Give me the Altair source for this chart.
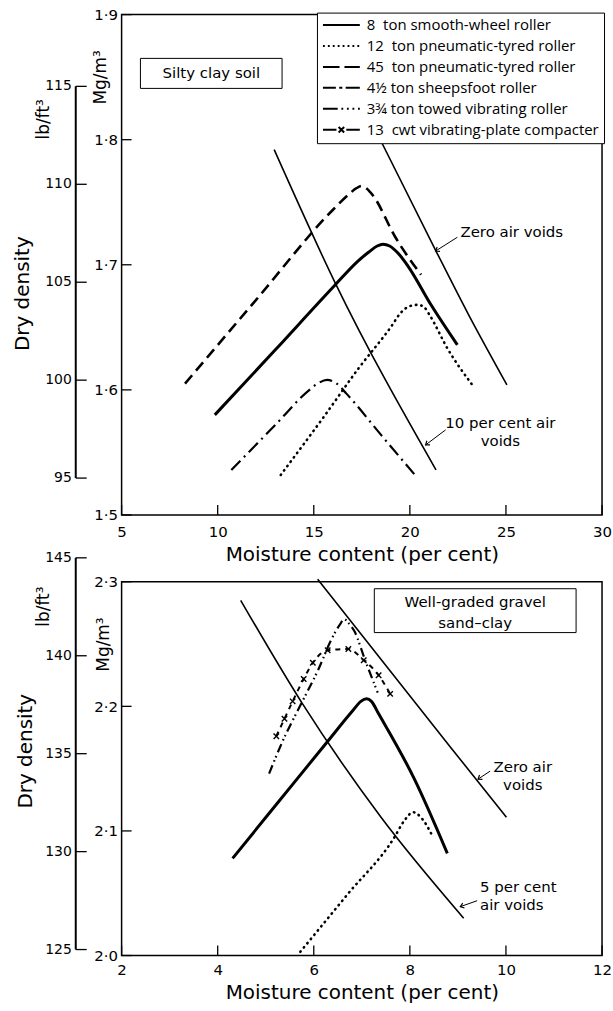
import altair as alt
import pandas as pd

FONT = "DejaVu Sans"
LEG_FONT = "Open Sans"

# ---------------- series names (legend) ----------------
SERIES = [
    "\u00a08\u00a0\u00a0ton smooth-wheel roller",
    "12\u00a0\u00a0ton pneumatic-tyred roller",
    "45\u00a0\u00a0ton pneumatic-tyred roller",
    "4½\u00a0ton sheepsfoot roller",
    "3¾\u00a0ton towed vibrating roller",
    "13\u00a0\u00a0cwt vibrating-plate compacter",
]
# legend symbols (solid, dotted, dashed, dash-dot, dash-dot-dot, dash-x-dash)
LEGEND_PATHS = [
    "M-3,0H3",
    "M-3,0h0.3M-2.2,0h0.3M-1.4,0h0.3M-0.6,0h0.3M0.2,0h0.3M1,0h0.3M1.8,0h0.3M2.6,0h0.3",
    "M-3,0H-0.3M0.5,0H3",
    "M-3,0H-0.9M-0.35,0H0.15M0.7,0H3",
    "M-3,0H-0.6M0,0h0.3M0.9,0h0.3M1.8,0h0.3M2.7,0h0.3",
    "M-3,0H-0.8M-0.45,-0.45L0.45,0.45M-0.45,0.45L0.45,-0.45M0.8,0H3",
]

# ---------------- top panel: silty clay soil ----------------
TOP_8T_M = [9.85, 13.0, 16.0, 17.3, 17.85, 18.3, 18.6, 18.95, 19.4, 19.9, 21.1, 22.47]
TOP_8T_MG = [1.580, 1.632, 1.682, 1.703, 1.710, 1.715, 1.7165, 1.715, 1.709, 1.699, 1.668, 1.636]
TOP_12T_M = [13.28, 15.5, 17.32, 19.0, 19.55, 20.0, 20.41, 20.75, 21.02, 21.96, 23.25]
TOP_12T_MG = [1.532, 1.578, 1.617, 1.650, 1.662, 1.667, 1.668, 1.666, 1.660, 1.633, 1.604]
TOP_45T_M = [8.30, 12.0, 16.0, 16.8, 17.2, 17.5, 17.75, 18.1, 19.21, 20.58]
TOP_45T_MG = [1.605, 1.672, 1.744, 1.756, 1.761, 1.763, 1.761, 1.755, 1.723, 1.692]
TOP_SF_M = [10.71, 13.0, 14.7, 15.2, 15.69, 16.2, 16.7, 18.5, 20.32]
TOP_SF_MG = [1.536, 1.572, 1.599, 1.605, 1.608, 1.605, 1.597, 1.564, 1.531]
TOP_ZAV_M = [18.2, 21.36, 22.99, 25.05]
TOP_ZAV_MG = [1.808, 1.711, 1.662, 1.604]
TOP_10AV_M = [12.94, 16.1, 21.36]
TOP_10AV_MG = [1.792, 1.686, 1.536]

TOP_X_TICKS = [5, 10, 15, 20, 25, 30]
TOP_MG_TICKS = [1.5, 1.6, 1.7, 1.8, 1.9]
TOP_LB_TICKS = [95, 100, 105, 110, 115]

TOP_BOX = {"m": [5.98], "m2": [13.35], "mg": [1.841], "mg2": [1.865]}
TOP_BOX_TEXT = {"m": [9.67], "mg": [1.853], "t": ["Silty clay soil"]}
TOP_NOTE_ZAV = {"m": [22.63], "mg": [1.726], "t": ["Zero air voids"]}
TOP_NOTE_10 = {"m": [24.71], "mg": [1.5733], "t": ["10 per cent air\nvoids"]}
TOP_ARROWS = {"m": [22.47, 21.86], "mg": [1.722, 1.568],
              "m2": [21.34, 20.82], "mg2": [1.711, 1.556], "ang": [147.5, 143.0]}

# ---------------- bottom panel: well-graded gravel sand-clay ----------------
BOT_8T_M = [4.31, 5.3, 6.27, 6.8, 6.98, 7.1, 7.2, 7.35, 8.09, 8.78]
BOT_8T_MG = [2.078, 2.125, 2.171, 2.196, 2.204, 2.206, 2.204, 2.194, 2.142, 2.082]
BOT_12T_M = [5.72, 6.7, 7.68, 7.88, 8.07, 8.25, 8.47]
BOT_12T_MG = [2.003, 2.049, 2.095, 2.108, 2.115, 2.110, 2.096]
BOT_TV_M = [5.07, 5.34, 5.75, 6.10, 6.37, 6.55, 6.63, 6.72, 6.85, 7.06, 7.33]
BOT_TV_MG = [2.146, 2.171, 2.203, 2.230, 2.254, 2.266, 2.270, 2.267, 2.260, 2.238, 2.211]
BOT_VP_M = [5.22, 5.39, 5.56, 5.79, 5.98, 6.29, 6.72, 7.04, 7.35, 7.59]
BOT_VP_MG = [2.176, 2.190, 2.204, 2.222, 2.235, 2.245, 2.246, 2.237, 2.225, 2.210]
BOT_ZAV_M = [6.08, 8.85, 10.01]
BOT_ZAV_MG = [2.302, 2.167, 2.111]
BOT_5AV_M = [4.48, 5.75, 7.40, 9.12]
BOT_5AV_MG = [2.285, 2.203, 2.111, 2.030]

BOT_X_TICKS = [2, 4, 6, 8, 10, 12]
BOT_MG_TICKS = [2.0, 2.1, 2.2, 2.3]
BOT_LB_TICKS = [125, 130, 135, 140, 145]

BOT_BOX = {"m": [7.26], "m2": [11.46], "mg": [2.2592], "mg2": [2.2944]}
BOT_BOX_TEXT = {"m": [9.36], "mg": [2.284], "t": ["Well-graded gravel\nsand\u2013clay"]}
BOT_NOTE_ZAV = {"m": [10.35], "mg": [2.1512], "t": ["Zero air\nvoids"]}
BOT_NOTE_5 = {"m": [9.46], "mg": [2.0552], "t": ["5 per cent\nair voids"]}
BOT_ARROWS = {"m": [9.67, 9.40], "mg": [2.148, 2.044],
              "m2": [9.42, 9.05], "mg2": [2.1416, 2.0392], "ang": [146.0, 160.6]}

TW, TH = 482, 502
BW, BH = 482, 375
LABEL_EXPR = "replace(format(datum.value, '.1f'), '.', '\u00b7')"
ARROW_PATH = "M-1,-0.75L0,0L-1,0.75"
CROSS_PATH = "M-1,-1L1,1M-1,1L1,-1"


def df(d):
    return pd.DataFrame(d)


def curve(m, mg):
    return pd.DataFrame({"m": m, "mg": mg})


def encs(xdom, ydom, xticks, yticks, lpad, tpad):
    xs = alt.Scale(domain=xdom, nice=False, zero=False)
    ys = alt.Scale(domain=ydom, nice=False, zero=False)
    xa = alt.Axis(values=xticks, format="d", title="Moisture content (per cent)",
                  grid=False, domain=False, ticks=False, tickSize=0,
                  labelPadding=lpad, labelFlush=False, labelOverlap=False,
                  labelFontSize=15, labelFont=FONT, labelColor="black",
                  titleFontSize=20, titleFont=FONT, titleFontWeight="normal",
                  titleColor="black", titlePadding=tpad)
    ya = alt.Axis(values=yticks, labelExpr=LABEL_EXPR, title=None,
                  grid=False, domain=False, ticks=False, tickSize=0,
                  labelPadding=4, labelFlush=False, labelOverlap=False,
                  labelFontSize=15, labelFont=FONT, labelColor="black")
    return {"xs": xs, "ys": ys, "xa": xa, "ya": ya}


def X(e, f="m:Q"):
    return alt.X(f, scale=e["xs"], axis=e["xa"])


def Y(e, f="mg:Q"):
    return alt.Y(f, scale=e["ys"], axis=e["ya"])


def frame_ticks(e, xticks, yticks, H):
    xt = alt.Chart(pd.DataFrame({"m": xticks})).mark_rule(color="black", strokeWidth=1.3).encode(
        x=X(e), y=alt.value(H), y2=alt.value(H - 10))
    yt = alt.Chart(pd.DataFrame({"mg": yticks})).mark_rule(color="black", strokeWidth=1.3).encode(
        y=Y(e), x=alt.value(0), x2=alt.value(10))
    return [xt, yt]


def lb_axis(ticks, domain):
    sc = alt.Scale(domain=domain, nice=False, zero=False)
    d = pd.DataFrame({"lb": ticks, "lab": [str(v) for v in ticks]})
    line = alt.Chart(d).mark_rule(color="black", strokeWidth=2).encode(
        x=alt.value(-46), y=alt.Y("min(lb):Q", scale=sc, axis=None), y2="max(lb):Q")
    tk = alt.Chart(d).mark_rule(color="black", strokeWidth=1.3).encode(
        x=alt.value(-46), x2=alt.value(-35), y=alt.Y("lb:Q", scale=sc, axis=None))
    lab = alt.Chart(d).mark_text(align="right", baseline="middle", font=FONT, fontSize=14,
                                 color="black").encode(
        x=alt.value(-50), y=alt.Y("lb:Q", scale=sc, axis=None), text="lab:N")
    return alt.layer(line, tk, lab)


def side_titles(dd, lb, mg):
    out = []
    for (txt, px, py, fs) in [("Dry density", dd[0], dd[1], 20), ("lb/ft\u00b3", lb[0], lb[1], 17),
                              ("Mg/m\u00b3", mg[0], mg[1], 17)]:
        out.append(alt.Chart(pd.DataFrame({"t": [txt]})).mark_text(
            angle=270, font=FONT, fontSize=fs, color="black", align="center", baseline="middle"
        ).encode(x=alt.value(px), y=alt.value(py), text="t:N"))
    return out


def notes(e, box, box_text, note_list, arrows):
    layers = []
    layers.append(alt.Chart(df(box)).mark_rect(fill="white", stroke="black", strokeWidth=1).encode(
        x=X(e), x2="m2:Q", y=Y(e), y2="mg2:Q"))
    layers.append(alt.Chart(df(box_text)).mark_text(font=FONT, fontSize=15, color="black",
                                                   baseline="middle",
                                                   lineBreak="\n", lineHeight=21).encode(
        x=X(e), y=Y(e), text="t:N"))
    for (d, align) in note_list:
        layers.append(alt.Chart(df(d)).mark_text(font=FONT, fontSize=15, color="black",
                                                align=align, baseline="middle",
                                                lineBreak="\n", lineHeight=18).encode(
            x=X(e), y=Y(e), text="t:N"))
    layers.append(alt.Chart(df(arrows)).mark_rule(color="black", strokeWidth=1).encode(
        x=X(e), y=Y(e), x2="m2:Q", y2="mg2:Q"))
    layers.append(alt.Chart(df(arrows)).mark_point(shape=ARROW_PATH, filled=False, color="black",
                                                  strokeWidth=1.2, size=49, opacity=1).encode(
        x=X(e, "m2:Q"), y=Y(e, "mg2:Q"), angle=alt.Angle("ang:Q", scale=None)))
    return layers


def line(e, m, mg, **kw):
    return alt.Chart(curve(m, mg)).mark_line(color="black", interpolate="monotone", **kw).encode(
        x=X(e), y=Y(e))


# ---------------- build top panel ----------------
te = encs([5, 30], [1.5, 1.9], TOP_X_TICKS, TOP_MG_TICKS, 10, 5)

top_curves = [
    line(te, TOP_ZAV_M, TOP_ZAV_MG, strokeWidth=1.6),
    line(te, TOP_10AV_M, TOP_10AV_MG, strokeWidth=1.6),
    line(te, TOP_8T_M, TOP_8T_MG, strokeWidth=3),
    line(te, TOP_12T_M, TOP_12T_MG, strokeWidth=2.6, strokeDash=[0.5, 5], strokeCap="round"),
    line(te, TOP_45T_M, TOP_45T_MG, strokeWidth=2.6, strokeDash=[11, 6]),
    line(te, TOP_SF_M, TOP_SF_MG, strokeWidth=2.2, strokeDash=[13, 5, 2, 5]),
]

legend_layer = alt.Chart(pd.DataFrame({"series": SERIES})).mark_point(
    filled=False, color="black", strokeWidth=2, opacity=1
).encode(
    x=alt.value(400), y=alt.value(60),
    shape=alt.Shape("series:N", scale=alt.Scale(domain=SERIES, range=LEGEND_PATHS),
                    legend=alt.Legend(title=None, orient="none", legendX=196, legendY=-2,
                                      strokeColor="black", fillColor="white", padding=5,
                                      labelFont=LEG_FONT, labelFontSize=15, labelColor="black",
                                      labelLimit=400, symbolSize=152, symbolStrokeWidth=2,
                                      symbolStrokeColor="black", symbolFillColor="white",
                                      rowPadding=5, symbolOffset=12, labelOffset=18)),
)

top_inner = alt.layer(
    *top_curves,
    *notes(te, TOP_BOX, TOP_BOX_TEXT, [(TOP_NOTE_ZAV, "left"), (TOP_NOTE_10, "center")], TOP_ARROWS),
    *frame_ticks(te, TOP_X_TICKS, TOP_MG_TICKS, TH),
    *side_titles((-99, 280), (-78, 105), (-21, 63)),
    legend_layer,
)
top = alt.layer(top_inner, lb_axis(TOP_LB_TICKS, [93.117, 118.664])).resolve_scale(
    y="independent").properties(width=TW, height=TH)

# ---------------- build bottom panel ----------------
be = encs([2, 12], [2.0, 2.3], BOT_X_TICKS, BOT_MG_TICKS, 7, 5)

bot_curves = [
    line(be, BOT_ZAV_M, BOT_ZAV_MG, strokeWidth=1.6),
    line(be, BOT_5AV_M, BOT_5AV_MG, strokeWidth=1.6),
    line(be, BOT_8T_M, BOT_8T_MG, strokeWidth=3),
    line(be, BOT_12T_M, BOT_12T_MG, strokeWidth=2.6, strokeDash=[0.5, 5], strokeCap="round"),
    line(be, BOT_TV_M, BOT_TV_MG, strokeWidth=2.2, strokeDash=[9, 4, 1.5, 3, 1.5, 4]),
    line(be, BOT_VP_M, BOT_VP_MG, strokeWidth=2, strokeDash=[5, 5]),
    alt.Chart(curve(BOT_VP_M, BOT_VP_MG)).mark_point(shape=CROSS_PATH, color="black", filled=False,
                                                     strokeWidth=1.4, size=30, opacity=1).encode(
        x=X(be), y=Y(be)),
]

bot_inner = alt.layer(
    *bot_curves,
    *notes(be, BOT_BOX, BOT_BOX_TEXT, [(BOT_NOTE_ZAV, "center"), (BOT_NOTE_5, "left")], BOT_ARROWS),
    *frame_ticks(be, BOT_X_TICKS, BOT_MG_TICKS, BH),
    *side_titles((-96, 170), (-78, 25), (-18, 63)),
)
bottom = alt.layer(bot_inner, lb_axis(BOT_LB_TICKS, [124.695, 143.779])).resolve_scale(
    y="independent").properties(width=BW, height=BH)

chart = alt.vconcat(top, bottom, spacing=67, bounds="flush").properties(
    padding={"left": 12, "top": 5, "right": 0, "bottom": 2}
).configure(font=FONT).configure_view(stroke="black", strokeWidth=1.5)

chart.save("out.html", embed_options={"renderer": "svg", "actions": False})
